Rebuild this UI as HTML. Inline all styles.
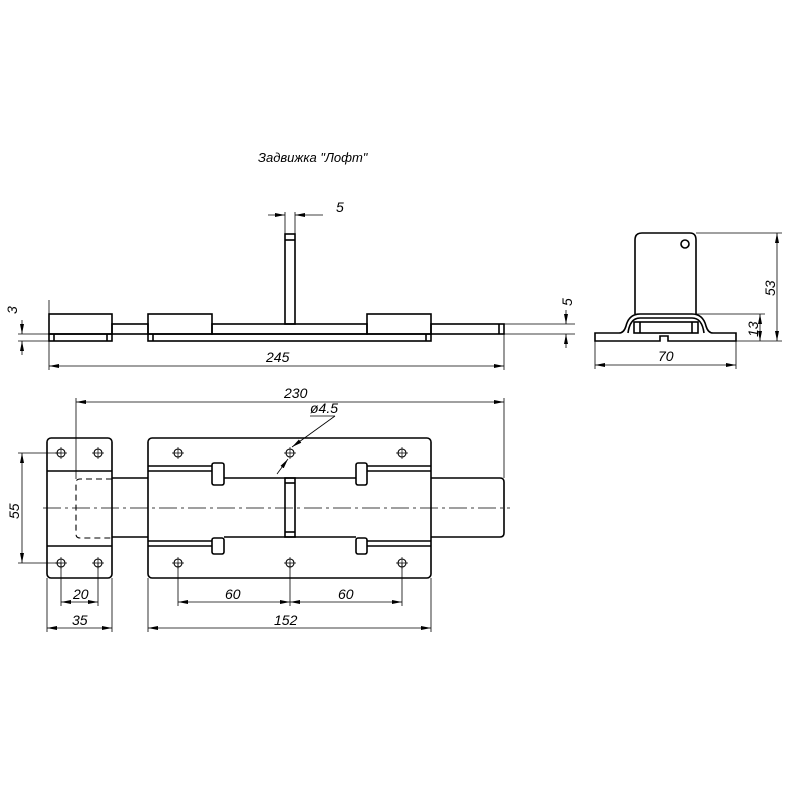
<!DOCTYPE html>
<html><head><meta charset="utf-8"><style>html,body{margin:0;padding:0;background:#fff}svg{display:block}</style></head>
<body>
<svg width="800" height="800" viewBox="0 0 800 800" xmlns="http://www.w3.org/2000/svg" font-family="Liberation Sans, DejaVu Sans, sans-serif" font-style="italic">
<defs>
<marker id="a" viewBox="0 0 10 4" refX="10" refY="2" markerWidth="10" markerHeight="4" orient="auto-start-reverse" markerUnits="userSpaceOnUse"><path d="M0,0L10,2L0,4z" fill="#000"/></marker>
<g id="h" fill="none" stroke="#000"><circle cx="0" cy="0" r="4" stroke-width="1.1"/><path d="M-6,0H6M0,-6V6" stroke-width="0.7"/></g>
</defs>
<rect width="800" height="800" fill="#fff"/>
<text x="258" y="162" font-size="13">Задвижка "Лофт"</text>

<!-- TOP VIEW -->
<g fill="none" stroke="#000" stroke-width="1.6">
<rect x="49" y="314" width="63" height="20"/>
<rect x="49" y="334" width="63" height="7"/>
<line x1="54" y1="334" x2="54" y2="341"/><line x1="107" y1="334" x2="107" y2="341"/>
<rect x="112" y="324" width="36" height="10"/>
<rect x="148" y="314" width="64" height="20"/>
<rect x="148" y="334" width="283" height="7"/>
<line x1="153" y1="334" x2="153" y2="341"/><line x1="426" y1="334" x2="426" y2="341"/>
<rect x="212" y="324" width="155" height="10"/>
<rect x="367" y="314" width="64" height="20"/>
<rect x="431" y="324" width="73" height="10"/>
<line x1="499" y1="324" x2="499" y2="334"/>
<rect x="285" y="234" width="10" height="90"/>
<line x1="285" y1="240" x2="295" y2="240"/>
</g>
<g stroke="#000" stroke-width="0.8" fill="none">
<line x1="285" y1="212" x2="285" y2="234"/><line x1="295" y1="212" x2="295" y2="234"/>
<line x1="268" y1="215" x2="285" y2="215" marker-end="url(#a)"/>
<line x1="323" y1="215" x2="295" y2="215" marker-end="url(#a)"/>
<line x1="49" y1="300" x2="49" y2="370"/><line x1="504" y1="334" x2="504" y2="370"/>
<line x1="49" y1="366" x2="504" y2="366" marker-start="url(#a)" marker-end="url(#a)"/>
<line x1="18" y1="334" x2="49" y2="334"/><line x1="18" y1="341" x2="49" y2="341"/>
<line x1="22" y1="320" x2="22" y2="334" marker-end="url(#a)"/>
<line x1="22" y1="355" x2="22" y2="341" marker-end="url(#a)"/>
<line x1="504" y1="324" x2="575" y2="324"/><line x1="504" y1="334" x2="575" y2="334"/>
<line x1="566" y1="310" x2="566" y2="324" marker-end="url(#a)"/>
<line x1="566" y1="348" x2="566" y2="334" marker-end="url(#a)"/>
</g>
<g font-size="14">
<text x="336" y="212">5</text>
<text x="266" y="362">245</text>
<text transform="translate(17,314) rotate(-90)">3</text>
<text transform="translate(572,306) rotate(-90)">5</text>
</g>

<!-- SIDE VIEW -->
<g fill="none" stroke="#000" stroke-width="1.6">
<path d="M635,314 V240 Q635,233 642,233 H690 Q696,233 696,240 V314"/>
<circle cx="685" cy="244" r="4"/>
<path d="M595,333 H619 Q624,333 626,326 Q629,314 640,314 H692 Q703,314 706,326 Q708,333 713,333 H736 V341 H668 V336 H660 V341 H595 Z"/>
<path d="M628,333 Q630,318 640,318 H692 Q702,318 704,333"/>
<rect x="634" y="322" width="64" height="11"/>
<line x1="640" y1="322" x2="640" y2="333"/><line x1="692" y1="322" x2="692" y2="333"/>
</g>
<g stroke="#000" stroke-width="0.8" fill="none">
<line x1="696" y1="233" x2="782" y2="233"/><line x1="736" y1="341" x2="782" y2="341"/>
<line x1="777" y1="287" x2="777" y2="233" marker-end="url(#a)"/>
<line x1="777" y1="287" x2="777" y2="341" marker-end="url(#a)"/>
<line x1="696" y1="314" x2="765" y2="314"/>
<line x1="760" y1="327" x2="760" y2="314" marker-end="url(#a)"/>
<line x1="760" y1="327" x2="760" y2="341" marker-end="url(#a)"/>
<line x1="595" y1="341" x2="595" y2="369"/><line x1="736" y1="341" x2="736" y2="369"/>
<line x1="595" y1="365" x2="736" y2="365" marker-start="url(#a)" marker-end="url(#a)"/>
</g>
<g font-size="14">
<text x="658" y="361">70</text>
<text transform="translate(775,296) rotate(-90)">53</text>
<text transform="translate(758,337) rotate(-90)">13</text>
</g>

<!-- FRONT VIEW -->
<g fill="none" stroke="#000" stroke-width="1.6">
<rect x="47" y="438" width="65" height="140" rx="4"/>
<line x1="47" y1="471" x2="112" y2="471"/><line x1="47" y1="546" x2="112" y2="546"/>
<path d="M112,478 H148 M112,537 H148"/>
<rect x="148" y="438" width="283" height="140" rx="4"/>
<path d="M148,466 H212 M148,471 H212 M148,541 H212 M148,546 H212"/>
<path d="M367,466 H431 M367,471 H431 M367,541 H431 M367,546 H431"/>
<rect x="212" y="463" width="12" height="22" rx="2"/>
<rect x="212" y="538" width="12" height="16" rx="2"/>
<rect x="356" y="463" width="11" height="22" rx="2"/>
<rect x="356" y="538" width="11" height="16" rx="2"/>
<path d="M224,478 H356 M224,537 H356"/>
<path d="M431,478 H500 Q504,478 504,482 V533 Q504,537 500,537 H431"/>
<rect x="285" y="478" width="10" height="59"/>
<line x1="285" y1="483" x2="295" y2="483"/><line x1="285" y1="532" x2="295" y2="532"/>
</g>
<g fill="none" stroke="#000" stroke-width="1.1">
<path d="M112,479 H80 Q76,479 76,483 V534 Q76,538 80,538 H112" stroke-dasharray="6,4"/>
</g>
<use href="#h" x="61" y="453"/><use href="#h" x="98" y="453"/>
<use href="#h" x="61" y="563"/><use href="#h" x="98" y="563"/>
<use href="#h" x="178" y="453"/><use href="#h" x="290" y="453"/><use href="#h" x="402" y="453"/>
<use href="#h" x="178" y="563"/><use href="#h" x="290" y="563"/><use href="#h" x="402" y="563"/>
<g stroke="#000" stroke-width="0.8" fill="none">
<line x1="43" y1="508" x2="510" y2="508" stroke-dasharray="18,4,3,4"/>
<line x1="76" y1="398" x2="76" y2="479"/><line x1="504" y1="398" x2="504" y2="478"/>
<line x1="76" y1="402" x2="504" y2="402" marker-start="url(#a)" marker-end="url(#a)"/>
<line x1="18" y1="453" x2="61" y2="453"/><line x1="18" y1="563" x2="61" y2="563"/>
<line x1="22" y1="508" x2="22" y2="453" marker-end="url(#a)"/>
<line x1="22" y1="508" x2="22" y2="563" marker-end="url(#a)"/>
<line x1="61" y1="563" x2="61" y2="606"/><line x1="98" y1="563" x2="98" y2="606"/>
<line x1="61" y1="602" x2="98" y2="602" marker-start="url(#a)" marker-end="url(#a)"/>
<line x1="47" y1="578" x2="47" y2="632"/><line x1="112" y1="578" x2="112" y2="632"/>
<line x1="47" y1="628" x2="112" y2="628" marker-start="url(#a)" marker-end="url(#a)"/>
<line x1="178" y1="563" x2="178" y2="606"/><line x1="290" y1="563" x2="290" y2="606"/><line x1="402" y1="563" x2="402" y2="606"/>
<line x1="178" y1="602" x2="290" y2="602" marker-start="url(#a)" marker-end="url(#a)"/>
<line x1="290" y1="602" x2="402" y2="602" marker-start="url(#a)" marker-end="url(#a)"/>
<line x1="148" y1="578" x2="148" y2="632"/><line x1="431" y1="578" x2="431" y2="632"/>
<line x1="148" y1="628" x2="431" y2="628" marker-start="url(#a)" marker-end="url(#a)"/>
<line x1="277" y1="474" x2="288" y2="459" marker-end="url(#a)"/>
<line x1="335" y1="416" x2="292" y2="447" marker-end="url(#a)"/>
<line x1="310" y1="416" x2="335" y2="416"/>
</g>
<g font-size="14">
<text x="284" y="398">230</text>
<text x="310" y="413">ø4.5</text>
<text transform="translate(19,519) rotate(-90)">55</text>
<text x="73" y="599">20</text>
<text x="72" y="625">35</text>
<text x="225" y="599">60</text>
<text x="338" y="599">60</text>
<text x="274" y="625">152</text>
</g>
</svg>
</body></html>
